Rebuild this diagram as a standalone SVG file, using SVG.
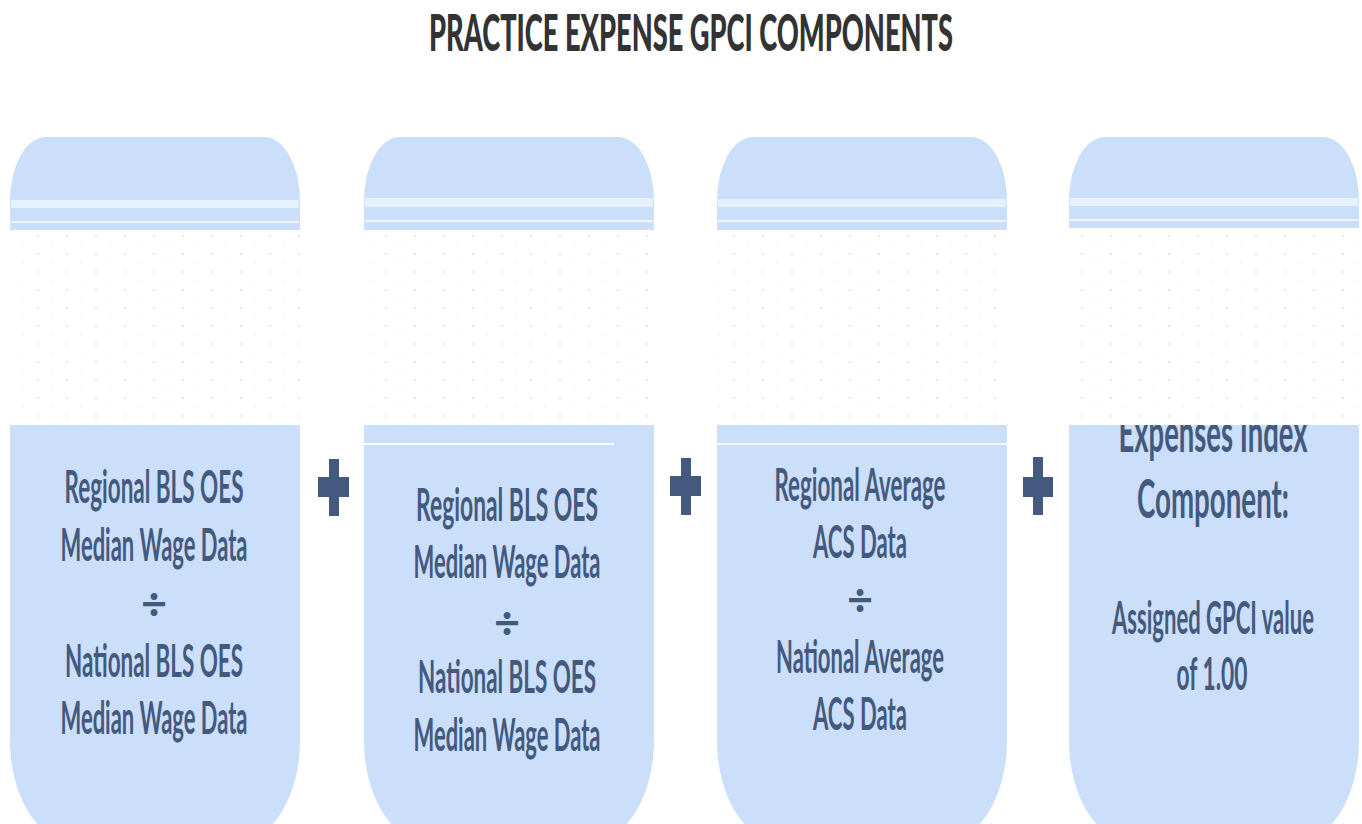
<svg xmlns="http://www.w3.org/2000/svg" width="1362" height="824" viewBox="0 0 1362 824">
  <defs>
    <style>
      .card { fill: #cbdefa; }
      .band { fill: #ffffff; }
      .dots { fill: url(#dotgrid); }
      .stripe { fill: #ffffff; opacity: 0.55; }
      .line { fill: #ffffff; }
      .t { font-family: Lato, "Open Sans", "Liberation Sans", sans-serif; font-weight: 700; fill: #435a7e; text-anchor: middle; }
      .b { font-size: 45px; }
      .title { font-family: Lato, "Liberation Sans", sans-serif; font-weight: 900; font-size: 52px; fill: #333333; text-anchor: middle; }
      .plus { fill: #435a7e; }
    </style>
    <pattern id="dotgrid" x="6" y="232" width="29" height="18" patternUnits="userSpaceOnUse">
      <circle cx="3" cy="4" r="0.8" fill="#b9c8e2"/>
      <circle cx="17" cy="13" r="0.6" fill="#d3ddef"/>
    </pattern>
  </defs>

  <rect width="1362" height="824" fill="#ffffff"/>

  <text class="title" x="691" y="51" textLength="524" lengthAdjust="spacingAndGlyphs">PRACTICE EXPENSE GPCI COMPONENTS</text>

  <g id="node-1">
    <path class="card" d="M10,201 A36,64 0 0 1 46,137 H264 A36,64 0 0 1 300,201 V740 A60,100 0 0 1 240,840 H70 A60,100 0 0 1 10,740 Z"/>
    <rect class="stripe" x="11" y="200" width="288" height="8"/>
    <rect class="line" x="11" y="221" width="288" height="2" opacity="0.7"/>
    <rect class="band" x="10" y="230" width="290" height="195"/>
    <rect class="dots" x="10" y="230" width="290" height="195"/>
    <text class="t b" x="154" y="503" textLength="179" lengthAdjust="spacingAndGlyphs">Regional BLS OES</text>
    <text class="t b" x="154" y="561" textLength="187" lengthAdjust="spacingAndGlyphs">Median Wage Data</text>
    <text class="t b" x="154" y="620">÷</text>
    <text class="t b" x="154" y="677" textLength="178" lengthAdjust="spacingAndGlyphs">National BLS OES</text>
    <text class="t b" x="154" y="734" textLength="187" lengthAdjust="spacingAndGlyphs">Median Wage Data</text>
  </g>

  <g id="node-2">
    <path class="card" d="M364,201 A36,64 0 0 1 400,137 H618 A36,64 0 0 1 654,201 V740 A60,100 0 0 1 594,840 H424 A60,100 0 0 1 364,740 Z"/>
    <rect class="stripe" x="365" y="198" width="288" height="9"/>
    <rect class="line" x="365" y="220" width="288" height="2" opacity="0.7"/>
    <rect class="band" x="364" y="230" width="290" height="195"/>
    <rect class="dots" x="364" y="230" width="290" height="195"/>
    <rect class="line" x="364" y="443" width="250" height="2"/>
    <text class="t b" x="507" y="521" textLength="182" lengthAdjust="spacingAndGlyphs">Regional BLS OES</text>
    <text class="t b" x="507" y="578" textLength="187" lengthAdjust="spacingAndGlyphs">Median Wage Data</text>
    <text class="t b" x="507" y="639">÷</text>
    <text class="t b" x="507" y="693" textLength="178" lengthAdjust="spacingAndGlyphs">National BLS OES</text>
    <text class="t b" x="507" y="751" textLength="187" lengthAdjust="spacingAndGlyphs">Median Wage Data</text>
  </g>

  <g id="node-3">
    <path class="card" d="M717,201 A36,64 0 0 1 753,137 H971 A36,64 0 0 1 1007,201 V740 A60,100 0 0 1 947,840 H777 A60,100 0 0 1 717,740 Z"/>
    <rect class="stripe" x="718" y="199" width="288" height="8"/>
    <rect class="line" x="718" y="220" width="288" height="2" opacity="0.7"/>
    <rect class="band" x="717" y="230" width="290" height="195"/>
    <rect class="dots" x="717" y="230" width="290" height="195"/>
    <rect class="line" x="717" y="443" width="290" height="2" opacity="0.8"/>
    <text class="t b" x="860" y="501" font-size="48" textLength="171" lengthAdjust="spacingAndGlyphs">Regional Average</text>
    <text class="t b" x="860" y="558" font-size="48" textLength="94" lengthAdjust="spacingAndGlyphs">ACS Data</text>
    <text class="t b" x="860" y="616">÷</text>
    <text class="t b" x="860" y="673" font-size="48" textLength="168" lengthAdjust="spacingAndGlyphs">National Average</text>
    <text class="t b" x="860" y="730" font-size="48" textLength="94" lengthAdjust="spacingAndGlyphs">ACS Data</text>
  </g>

  <g id="node-4">
    <path class="card" d="M1069,201 A36,64 0 0 1 1105,137 H1323 A36,64 0 0 1 1359,201 V740 A60,100 0 0 1 1299,840 H1129 A60,100 0 0 1 1069,740 Z"/>
    <rect class="stripe" x="1070" y="198" width="288" height="8"/>
    <rect class="line" x="1070" y="219" width="288" height="2" opacity="0.7"/>
    <text class="t" x="1213" y="452" font-size="54" textLength="189" lengthAdjust="spacingAndGlyphs">Expenses Index</text>
    <text class="t" x="1213" y="518" font-size="54" textLength="152" lengthAdjust="spacingAndGlyphs">Component:</text>
    <text class="t b" x="1213" y="634" font-size="47" textLength="202" lengthAdjust="spacingAndGlyphs">Assigned GPCI value</text>
    <text class="t b" x="1212" y="690" font-size="47" textLength="71" lengthAdjust="spacingAndGlyphs">of 1.00</text>
    <rect class="band" x="1069" y="228" width="290" height="197"/>
    <rect class="dots" x="1069" y="228" width="290" height="197"/>
  </g>

  <g id="connectors">
    <path class="plus" d="M329,459 H339 V477 H349 V497 H339 V516 H329 V497 H318 V477 H329 Z"/>
    <path class="plus" d="M681,458 H691 V476 H701 V496 H691 V515 H681 V496 H670 V476 H681 Z"/>
    <path class="plus" d="M1033,457 H1043 V477 H1053 V497 H1043 V515 H1033 V497 H1023 V477 H1033 Z"/>
  </g>
</svg>
